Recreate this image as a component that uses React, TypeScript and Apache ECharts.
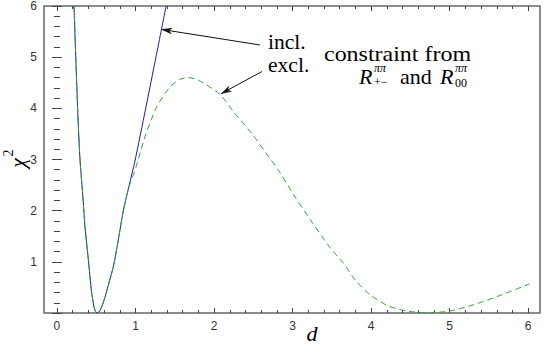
import React, { useEffect, useRef } from "react";
import * as echarts from "echarts";

// ---- data ----
const XMIN = -0.165;
const XMAX = 6.15;
const YMIN = 0;
const YMAX = 6;
const xTickLabels = [0, 1, 2, 3, 4, 5, 6];
const yTickLabels = [1, 2, 3, 4, 5, 6];

// chi^2 including the constraint (solid blue)
const inclD = [0.217, 0.263, 0.293, 0.327, 0.357, 0.4, 0.44, 0.47, 0.49, 0.514, 0.54, 0.57, 0.61, 0.66, 0.72, 0.78, 0.845, 0.92, 0.99, 1.13, 1.26, 1.39];
const inclChi = [6.0, 4.0, 3.0, 2.34, 1.69, 1.04, 0.42, 0.13, 0.035, 0.0, 0.03, 0.12, 0.3, 0.58, 0.92, 1.42, 2.0, 2.5, 2.95, 4.0, 5.0, 6.0];

// chi^2 excluding the constraint (dashed green)
const exclD = [0.217, 0.263, 0.293, 0.327, 0.357, 0.4, 0.44, 0.47, 0.49, 0.514, 0.54, 0.57, 0.61, 0.66, 0.72, 0.78, 0.845, 0.92, 1.0, 1.12, 1.27, 1.44, 1.57, 1.67, 1.8, 2.07, 2.25, 2.48, 2.65, 2.82, 3.03, 3.25, 3.48, 3.65, 3.8, 3.99, 4.22, 4.45, 4.72, 5.0, 5.26, 5.6, 6.02];
const exclChi = [6.0, 4.0, 3.0, 2.34, 1.69, 1.04, 0.42, 0.13, 0.035, 0.0, 0.03, 0.12, 0.3, 0.58, 0.92, 1.42, 2.0, 2.48, 2.82, 3.44, 4.03, 4.42, 4.57, 4.6, 4.55, 4.28, 3.93, 3.51, 3.15, 2.79, 2.27, 1.77, 1.27, 0.97, 0.64, 0.35, 0.137, 0.04, 0.0, 0.04, 0.14, 0.32, 0.57];

const SERIF = "Liberation Serif";
const SANS = "Liberation Sans";

function steps(a: number, b: number, s: number) {
  const out: number[] = [];
  for (let v = a; v <= b + 1e-9; v += s) out.push(Math.round(v * 1000) / 1000);
  return out;
}

function arrow(x1: number, y1: number, x2: number, y2: number) {
  const ang = Math.atan2(y2 - y1, x2 - x1);
  const L = 10;
  const a = 0.28;
  const p1 = [x2 - L * Math.cos(ang - a), y2 - L * Math.sin(ang - a)];
  const p2 = [x2 - L * Math.cos(ang + a), y2 - L * Math.sin(ang + a)];
  const p3 = [x2 - L * 0.7 * Math.cos(ang), y2 - L * 0.7 * Math.sin(ang)];
  return [
    { type: "line", shape: { x1, y1, x2, y2 }, style: { stroke: "#111", lineWidth: 1 } },
    { type: "polygon", shape: { points: [p1, [x2, y2], p2, p3] }, style: { stroke: "#111", fill: "#111", lineWidth: 0.6 } },
  ];
}

function txt(x: number, y: number, text: string, size: number, italic = false, align = "left", lh = size, sx = 1) {
  return {
    type: "text",
    x,
    y,
    scaleX: sx,
    style: {
      text,
      fontFamily: SERIF,
      fontSize: size,
      lineHeight: lh,
      fontStyle: italic ? "italic" : "normal",
      fill: "#000",
      verticalAlign: "middle",
      align,
    },
  };
}

export default function App() {
  const ref = useRef<HTMLDivElement>(null);
  useEffect(() => {
    if (!ref.current) return;
    const chart = echarts.init(ref.current, null, { renderer: "svg" });
    const xMinor = steps(0, 6, 0.2);
    const tickColor = "#444";
    const baseX = {
      type: "value",
      min: XMIN,
      max: XMAX,
      splitLine: { show: false },
      axisLine: { show: false },
    };
    const majorXTick = { show: true, inside: true, length: 5, customValues: xTickLabels, lineStyle: { color: tickColor, width: 1 } };
    const minorXTick = { show: true, inside: true, length: 3, customValues: xMinor, lineStyle: { color: tickColor, width: 1 } };
    const baseY = {
      type: "value",
      min: YMIN,
      max: YMAX,
      interval: 1,
      splitLine: { show: false },
      axisLine: { show: false },
      axisTick: { show: true, inside: true, length: 5, lineStyle: { color: tickColor, width: 1 } },
      minorTick: { show: true, splitNumber: 5, length: 3, lineStyle: { color: tickColor, width: 1 } },
      minorSplitLine: { show: false },
    };
    const option: any = {
      animation: false,
      backgroundColor: "#fff",
      grid: { left: 44, top: 6, right: 5, bottom: 32, show: true, borderColor: "#666", borderWidth: 1.5, backgroundColor: "transparent" },
      xAxis: [
        {
          ...baseX,
          position: "bottom",
          axisTick: majorXTick,
          axisLabel: { show: true, customValues: xTickLabels, margin: 7, color: "#333", fontFamily: SANS, fontSize: 12 },
        },
        { ...baseX, position: "bottom", axisTick: minorXTick, axisLabel: { show: false } },
        { ...baseX, position: "top", axisTick: majorXTick, axisLabel: { show: false } },
        { ...baseX, position: "top", axisTick: minorXTick, axisLabel: { show: false } },
      ],
      yAxis: [
        {
          ...baseY,
          position: "left",
          axisLabel: {
            show: true,
            margin: 7,
            color: "#333",
            fontFamily: SANS,
            fontSize: 12,
            formatter: (v: number) => (yTickLabels.includes(v) ? String(v) : ""),
          },
        },
        { ...baseY, position: "right", axisLabel: { show: false } },
      ],
      series: [
        {
          name: "incl.",
          type: "line",
          xAxisIndex: 0,
          yAxisIndex: 0,
          data: inclD.map((d, i) => [d, inclChi[i]]),
          showSymbol: false,
          smooth: 0.25,
          lineStyle: { color: "#1c1ca8", width: 1 },
          z: 2,
        },
        {
          name: "excl.",
          type: "line",
          xAxisIndex: 0,
          yAxisIndex: 0,
          data: exclD.map((d, i) => [d, exclChi[i]]),
          showSymbol: false,
          smooth: 0.25,
          lineStyle: { color: "#2fa52f", width: 1, type: [6, 4] },
          z: 3,
        },
      ],
      graphic: [
        ...arrow(260, 45, 162, 29.5),
        ...arrow(262, 71.5, 221.5, 93.5),
        txt(268, 42.5, "incl.", 20, false, "left", 16, 1.08),
        txt(268, 65.5, "excl.", 20, false, "left", 16, 1.08),
        txt(324, 53, "constraint from", 22, false, "left", 16, 1.09),
        txt(359, 76, "R", 22, true, "left", 16),
        txt(374, 67.5, "ππ", 12, true, "left", 9),
        txt(374, 82, "+−", 12, false, "left", 9),
        txt(400, 76, "and", 22, false, "left", 16),
        txt(440, 76, "R", 22, true, "left", 16),
        txt(455, 67.5, "ππ", 12, true, "left", 9),
        txt(455, 83, "00", 12, false, "left", 9),
        txt(312, 333, "d", 22, true, "center"),
        {
          type: "group",
          x: 17,
          y: 163,
          rotation: Math.PI / 2,
          children: [txt(0, 0, "χ", 22, true, "center"), txt(10, -9, "2", 14, false, "center")],
        },
      ],
    };
    chart.setOption(option);
    return () => chart.dispose();
  }, []);
  return <div ref={ref} style={{ width: 545, height: 345, position: "absolute", left: 0, top: 0 }} />;
}
